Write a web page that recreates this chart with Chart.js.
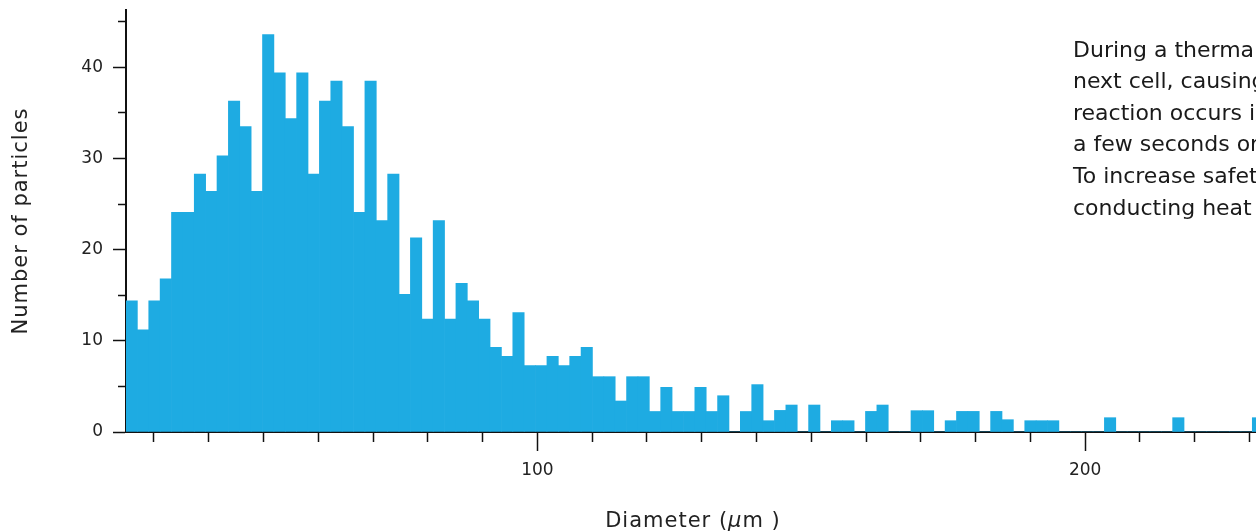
<!DOCTYPE html>
<html>
<head>
<meta charset="utf-8">
<script src="https://cdn.jsdelivr.net/npm/chart.js@4.4.1/dist/chart.umd.min.js"></script>
<style>
html,body{margin:0;padding:0;background:#fff;overflow:hidden}
#wrap{width:1256px;height:531px;position:relative}
</style>
</head>
<body>
<div id="wrap"><canvas id="c" width="1256" height="531"></canvas></div>
<script>
// ---- data ----
const binStart = 24.9;      // µm, left edge of first bin
const binWidth = 2.077;     // µm per bin
const counts = [
  14.4, 11.2, 14.4, 16.8, 24.1, 24.1, 28.3, 26.4, 30.3, 36.3,
  33.5, 26.4, 43.6, 39.4, 34.4, 39.4, 28.3, 36.3, 38.5, 33.5,
  24.1, 38.5, 23.2, 28.3, 15.1, 21.3, 12.4, 23.2, 12.4, 16.3,
  14.4, 12.4, 9.3, 8.3, 13.1, 7.3, 7.3, 8.3, 7.3, 8.3,
  9.3, 6.07, 6.07, 3.4, 6.07, 6.07, 2.25, 4.9, 2.25, 2.25,
  4.9, 2.25, 3.98, 0, 2.25, 5.2, 1.24, 2.37, 2.96, 0,
  2.96, 0, 1.24, 1.24, 0, 2.26, 2.96, 0, 0, 2.34,
  2.34, 0, 1.24, 2.26, 2.26, 0, 2.26, 1.35, 0, 1.24,
  1.24, 1.24, 0, 0, 0, 0, 1.57, 0, 0, 0,
  0, 0, 1.57, 0, 0, 0, 0, 0, 0, 1.57
];
const xTickValues = [30,40,50,60,70,80,90,100,110,120,130,140,150,160,170,180,190,200,210,220,230];
const xLabelled = [100, 200];
const yTickValues = [0,5,10,15,20,25,30,35,40,45];
const yLabelled = [0,10,20,30,40];
const xTitle = ['Diameter (', 'μ', 'm )'];
const yTitle = 'Number of particles';
const noteLines = [
  'During a thermal runaway',
  'next cell, causing',
  'reaction occurs in',
  'a few seconds or',
  'To increase safety,',
  'conducting heat t'
];

// ---- chart ----
const binCenters = counts.map((_, i) => binStart + binWidth * (i + 0.5));
const points = counts.map((v, i) => ({x: binCenters[i], y: v}));

const textPlugin = {
  id: 'texts',
  afterDraw(chart) {
    const ctx = chart.ctx;
    ctx.save();
    ctx.fillStyle = '#222';
    ctx.letterSpacing = '1px';
    // y title
    ctx.font = '21px "DejaVu Sans"';
    ctx.save();
    ctx.translate(27, 221);
    ctx.rotate(-Math.PI / 2);
    ctx.textAlign = 'center';
    ctx.textBaseline = 'alphabetic';
    ctx.fillText(yTitle, 0, 0);
    ctx.restore();
    // x title with italic mu
    ctx.textAlign = 'left';
    ctx.textBaseline = 'alphabetic';
    const fonts = ['21px "DejaVu Sans"', 'italic 21px "DejaVu Sans"', '21px "DejaVu Sans"'];
    let total = 0;
    const widths = xTitle.map((s, i) => { ctx.font = fonts[i]; const w = ctx.measureText(s).width; total += w; return w; });
    let x = 693 - total / 2;
    xTitle.forEach((s, i) => { ctx.font = fonts[i]; ctx.fillText(s, x, 527); x += widths[i]; });
    // note text
    ctx.fillStyle = '#1a1a1a';
    ctx.font = '22px "DejaVu Sans"';
    ctx.letterSpacing = '0px';
    noteLines.forEach((s, i) => ctx.fillText(s, 1073, 56.5 + i * 31.6));
    ctx.restore();
  }
};

new Chart(document.getElementById('c'), {
  type: 'bar',
  data: {
    datasets: [{
      data: points,
      backgroundColor: '#1EABE2',
      borderWidth: 0,
      barPercentage: 1,
      categoryPercentage: 1
    }]
  },
  options: {
    responsive: false,
    animation: false,
    events: [],
    layout: {padding: {left: 0, right: 0, top: 10, bottom: 0}},
    plugins: {legend: {display: false}, tooltip: {enabled: false}, title: {display: false}},
    scales: {
      x: {
        type: 'linear',
        min: 24.9,
        max: 231.2,
        offset: false,
        z: 1,
        afterFit(s) { s.height = 99; s.paddingLeft = 0; s.paddingRight = 0; },
        afterBuildTicks(s) { s.ticks = xTickValues.map(v => ({value: v})); },
        border: {display: true, color: '#111', width: 2},
        grid: {
          offset: false,
          drawOnChartArea: false, drawTicks: true, tickLength: 19,
          tickColor: '#111', tickWidth: 1.5,
          tickBorderDash: (c) => xLabelled.includes(c.tick && c.tick.value) ? [] : [9, 100]
        },
        ticks: {
          autoSkip: false, maxRotation: 0, padding: 9,
          color: '#222', font: {family: 'DejaVu Sans', size: 17},
          callback: (v) => xLabelled.includes(v) ? String(v) : ''
        }
      },
      y: {
        min: 0,
        max: 46.3,
        z: 1,
        afterFit(s) { s.width = 126; s.paddingTop = 0; s.paddingBottom = 0; },
        afterBuildTicks(s) { s.ticks = yTickValues.map(v => ({value: v})); },
        border: {display: true, color: '#111', width: 2},
        grid: {
          drawOnChartArea: false, drawTicks: true, tickLength: 13,
          tickColor: '#111', tickWidth: 1.5,
          tickBorderDash: (c) => yLabelled.includes(c.tick && c.tick.value) ? [] : [0, 5, 8, 100]
        },
        ticks: {
          autoSkip: false, padding: 10,
          color: '#222', font: {family: 'DejaVu Sans', size: 17},
          callback: (v) => yLabelled.includes(v) ? String(v) : ''
        }
      }
    }
  },
  plugins: [textPlugin]
});
</script>
</body>
</html>
